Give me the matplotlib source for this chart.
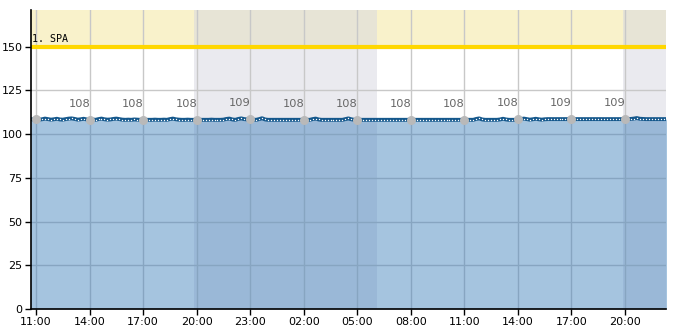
import matplotlib
matplotlib.use("Agg")
import matplotlib.pyplot as plt
import matplotlib.dates as mdates
import pandas as pd
import numpy as np

# ---------------- data ----------------
start_time = "2024-01-01 10:40"
step = "10min"
values = [
    108.6, 108.4,
    108.6, 108.3, 108.5, 108.9, 108.6, 108.3, 108.5, 108.8, 108.4, 108.3, 108.6, 108.9, 109.0, 108.7, 108.3, 108.5, 108.8, 108.4,
    108.3, 108.4, 108.2, 108.6, 108.9, 108.5, 108.3, 108.4, 108.7, 108.9, 108.6, 108.3, 108.2, 108.3, 108.2, 108.4, 108.3, 108.2,
    108.3, 108.2, 108.2, 108.2, 108.3, 108.2, 108.2, 108.3, 108.2, 108.6, 108.9, 108.5, 108.3, 108.2, 108.2, 108.3, 108.2, 108.2,
    108.3, 108.2, 108.2, 108.2, 108.2, 108.3, 108.2, 108.2, 108.2, 108.3, 108.7, 108.9, 108.4, 108.2, 108.7, 109.0, 108.6, 108.4,
    108.6, 108.3, 108.2, 108.6, 109.1, 108.4, 108.2, 108.2, 108.2, 108.2, 108.2, 108.2, 108.2, 108.2, 108.2, 108.2, 108.2, 108.2,
    108.3, 108.2, 108.2, 108.6, 108.9, 108.4, 108.2, 108.2, 108.2, 108.2, 108.2, 108.2, 108.2, 108.2, 108.6, 109.0, 108.5, 108.2,
    108.3, 108.2, 108.2, 108.2, 108.2, 108.2, 108.2, 108.2, 108.2, 108.2, 108.2, 108.2, 108.2, 108.2, 108.2, 108.2, 108.2, 108.2,
    108.3, 108.2, 108.2, 108.2, 108.2, 108.2, 108.2, 108.2, 108.2, 108.2, 108.2, 108.2, 108.2, 108.2, 108.2, 108.2, 108.2, 108.2,
    108.3, 108.2, 108.2, 108.2, 108.7, 109.0, 108.4, 108.2, 108.2, 108.2, 108.2, 108.2, 108.4, 108.8, 108.4, 108.2, 108.2, 108.2,
    108.4, 108.6, 108.9, 108.6, 108.3, 108.5, 108.8, 108.5, 108.3, 108.5, 108.6, 108.6, 108.6, 108.6, 108.6, 108.6, 108.6, 108.6,
    108.6, 108.6, 108.6, 108.6, 108.6, 108.6, 108.6, 108.6, 108.6, 108.6, 108.6, 108.6, 108.6, 108.6, 108.6, 108.6, 108.6, 108.6,
    108.6, 108.6, 108.7, 108.9, 109.2, 108.8, 108.7, 108.6, 108.6, 108.6, 108.6, 108.6, 108.6, 108.6, 108.6,
]
times = pd.date_range(start_time, periods=len(values), freq=step)

label_times = pd.date_range("2024-01-01 11:00", "2024-01-02 20:00", freq="3h")

night_starts = ["2024-01-01 19:50", "2024-01-02 19:52"]
night_ends = ["2024-01-02 06:05", "2024-01-02 23:00"]

threshold = 150
threshold_label = "1. SPA"
x_min, x_max = "2024-01-01 10:43", "2024-01-02 22:18"
y_min, y_max = 0, 171
y_ticks = [0, 25, 50, 75, 100, 125, 150]

# ---------------- plot ----------------
fig = plt.figure(figsize=(6.85, 3.3), dpi=100)
ax = fig.add_axes([31 / 685, 1 - 309 / 330, (666 - 31) / 685, (309 - 10) / 330])

ax.axhspan(threshold, y_max, color="#f9f2cb", zorder=0, lw=0)
for s, e in zip(night_starts, night_ends):
    ax.axvspan(pd.Timestamp(s), pd.Timestamp(e), color=(215 / 255, 215 / 255, 225 / 255),
               alpha=0.5, zorder=0.5, lw=0)

ax.grid(True, color="#c8c8c8", lw=1, zorder=1)
ax.set_axisbelow(True)

ax.fill_between(times, values, 0, color="#397cba", alpha=0.45, lw=0, zorder=2)
ax.plot(times, values, color="#15588c", lw=2.8, zorder=3, solid_capstyle="butt")
ax.plot(times, values, ls="none", marker="o", ms=1.0, mfc="white", mec="none", zorder=3.5)

ax.axhline(threshold, color="#ffd700", lw=3, zorder=3)
ax.annotate(threshold_label, (0, threshold), xycoords=("axes fraction", "data"),
            xytext=(1, 2), textcoords="offset points", family="DejaVu Sans Mono",
            fontsize=7.2, va="bottom", ha="left", zorder=5)

s = pd.Series(values, index=times)
lv = s.reindex(label_times).values
ax.plot(label_times, lv, ls="none", marker="o", ms=6.5, color="#b9b9b9", mec="none", zorder=4)
for t, v in zip(label_times[1:], lv[1:]):
    ax.annotate(f"{int(round(v))}", (t, v), xytext=(-7.5, 8), textcoords="offset points",
                ha="center", va="bottom", fontsize=8.2, color="#666666", zorder=5)

ax.set_xlim(pd.Timestamp(x_min), pd.Timestamp(x_max))
ax.set_ylim(y_min, y_max)
ax.set_yticks(y_ticks)
ax.xaxis.set_major_locator(mdates.HourLocator(byhour=[2, 5, 8, 11, 14, 17, 20, 23]))
ax.xaxis.set_major_formatter(mdates.DateFormatter("%H:%M"))
ax.tick_params(axis="both", labelsize=8, length=4, width=1, color="black", pad=2)
for side in ["top", "right"]:
    ax.spines[side].set_visible(False)
for side in ["left", "bottom"]:
    ax.spines[side].set_color("black")
    ax.spines[side].set_linewidth(1.2)
    ax.spines[side].set_zorder(6)

fig.savefig("out.png", dpi=100)
